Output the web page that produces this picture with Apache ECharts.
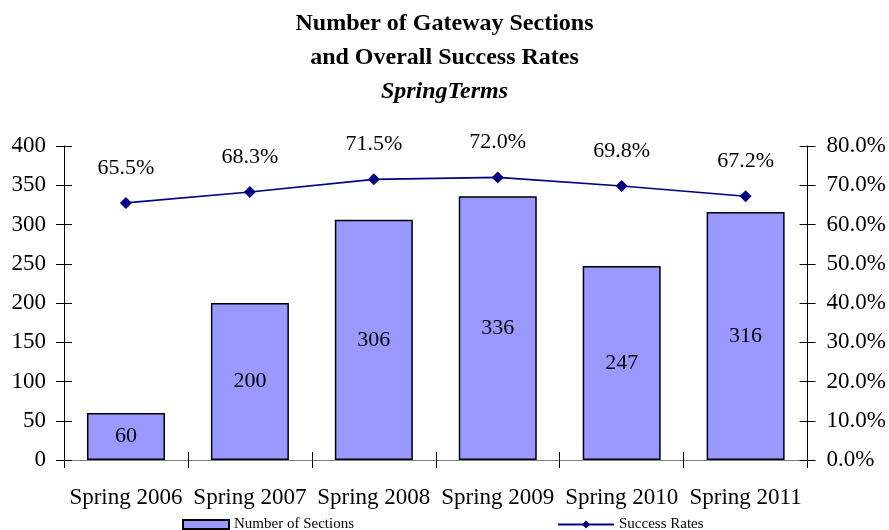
<!DOCTYPE html>
<html>
<head>
<meta charset="utf-8">
<script src="https://cdn.jsdelivr.net/npm/echarts@6/dist/echarts.min.js"></script>
<style>
  html, body { margin: 0; padding: 0; background: #fff; }
  #chart { width: 889px; height: 530px; }
</style>
</head>
<body>
<div id="chart"></div>
<script>
// chart data
const terms = ['Spring 2006', 'Spring 2007', 'Spring 2008', 'Spring 2009', 'Spring 2010', 'Spring 2011'];
const sections = [60, 200, 306, 336, 247, 316];
const successRates = [65.5, 68.3, 71.5, 72.0, 69.8, 67.2];

const font = 'Liberation Serif, Times New Roman, serif';
const chart = echarts.init(document.getElementById('chart'));

const grid = { left: 64, right: 81, top: 146, bottom: 70 };
const hiddenLine = { show: true, lineStyle: { color: 'rgba(0,0,0,0)' } };

const option = {
  animation: false,
  textStyle: { fontFamily: font },
  title: {
    text: 'Number of Gateway Sections\nand Overall Success Rates\n{i|SpringTerms}',
    left: 'center',
    top: 2,
    textStyle: {
      fontFamily: font,
      fontSize: 24,
      fontWeight: 'bold',
      color: '#000',
      lineHeight: 34,
      rich: {
        i: { fontFamily: font, fontSize: 24, fontWeight: 'bold', fontStyle: 'italic', color: '#000', lineHeight: 34 }
      }
    }
  },
  legend: [
    {
      data: [{ name: 'Number of Sections', icon: 'rect' }],
      left: 177, top: 512,
      itemWidth: 46, itemHeight: 9, itemGap: 6,
      textStyle: { fontFamily: font, fontSize: 15, color: '#000' }
    },
    {
      data: ['Success Rates'],
      left: 552, top: 512,
      itemWidth: 56, itemHeight: 10,
      textStyle: { fontFamily: font, fontSize: 15, color: '#000' }
    }
  ],
  grid: grid,
  xAxis: [
    {
      type: 'category',
      data: terms,
      axisLine: { lineStyle: { color: '#808080', width: 1 } },
      axisTick: { show: true, alignWithLabel: false, interval: 0, length: 8, lineStyle: { color: '#000' } },
      axisLabel: { fontFamily: font, fontSize: 23, color: '#000', margin: 26, interval: 0 }
    },
    {
      type: 'category',
      data: terms,
      position: 'bottom',
      axisLine: hiddenLine,
      axisTick: { show: true, inside: true, interval: 0, length: 8, lineStyle: { color: '#000' } },
      axisLabel: { show: false }
    }
  ],
  yAxis: [
    {
      type: 'value',
      min: 0, max: 400, interval: 50,
      splitLine: { show: false },
      axisLine: { show: true, lineStyle: { color: '#000' } },
      axisTick: { show: true, length: 8, lineStyle: { color: '#000' } },
      axisLabel: { fontFamily: font, fontSize: 23, color: '#000', margin: 18 }
    },
    {
      type: 'value',
      min: 0, max: 80, interval: 10,
      position: 'right',
      splitLine: { show: false },
      axisLine: { show: true, lineStyle: { color: '#000' } },
      axisTick: { show: true, length: 8, lineStyle: { color: '#000' } },
      axisLabel: {
        fontFamily: font, fontSize: 23, color: '#000', margin: 19,
        formatter: v => v.toFixed(1) + '%'
      }
    },
    {
      type: 'value',
      min: 0, max: 400, interval: 50,
      position: 'left',
      splitLine: { show: false },
      axisLine: hiddenLine,
      axisTick: { show: true, inside: true, length: 8, lineStyle: { color: '#000' } },
      axisLabel: { show: false }
    },
    {
      type: 'value',
      min: 0, max: 80, interval: 10,
      position: 'right',
      splitLine: { show: false },
      axisLine: hiddenLine,
      axisTick: { show: true, inside: true, length: 8, lineStyle: { color: '#000' } },
      axisLabel: { show: false }
    }
  ],
  series: [
    {
      name: 'Number of Sections',
      type: 'bar',
      data: sections,
      barWidth: 78,
      itemStyle: { color: '#9999FF', borderColor: '#000', borderWidth: 1.5 },
      label: {
        show: true,
        position: 'inside',
        fontFamily: font,
        fontSize: 22,
        color: '#000'
      }
    },
    {
      name: 'Success Rates',
      type: 'line',
      yAxisIndex: 1,
      data: successRates,
      symbol: 'diamond',
      symbolSize: 12,
      lineStyle: { color: '#000080', width: 1.6 },
      itemStyle: { color: '#000080' },
      label: {
        show: true,
        position: 'top',
        distance: 18,
        fontFamily: font,
        fontSize: 22,
        color: '#000',
        formatter: p => p.value.toFixed(1) + '%'
      }
    }
  ]
};

chart.setOption(option);
</script>
</body>
</html>
